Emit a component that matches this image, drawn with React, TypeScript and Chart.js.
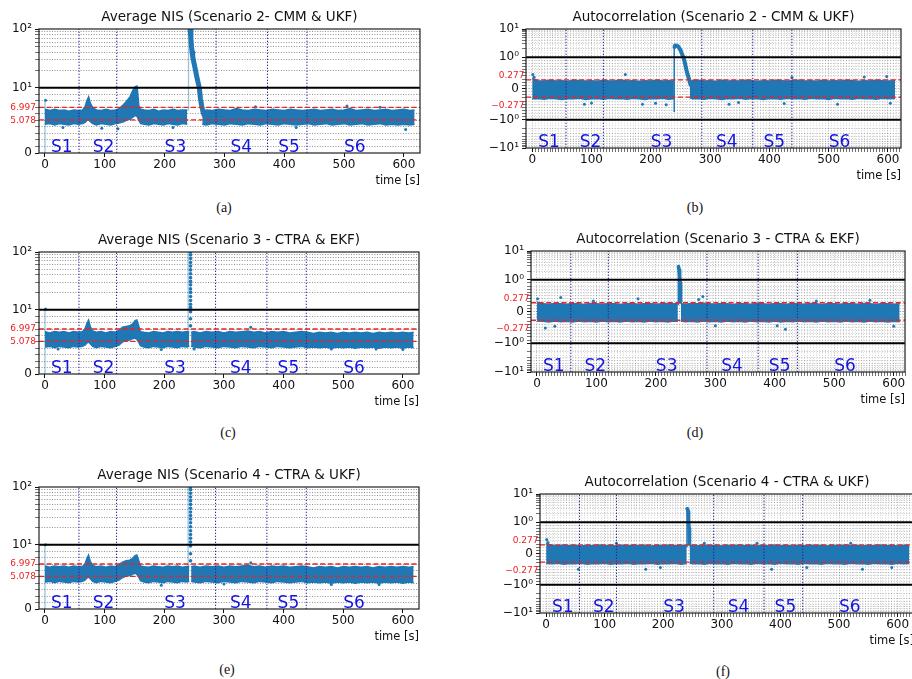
import React, { useEffect, useRef } from 'react';
import { Chart, LinearScale, registerables } from 'chart.js';

Chart.register(...registerables);

const FONT = "'DejaVu Sans', 'Noto Sans', sans-serif";
const SERIF = "'Liberation Serif', 'DejaVu Serif', serif";
const DATA_BLUE = '#1f77b4';
const LIGHT_BLUE = 'rgba(31,119,180,0.45)';
const RED = '#ee2222';
const NAVY = '#22229a';
const S_BLUE = '#1414e0';
const XH = 30;

// ---------------- axis / label data ----------------
const xTickValues = [0, 100, 200, 300, 400, 500, 600];
const xTickLabels = ['0', '100', '200', '300', '400', '500', '600'];
const nisTickValues = [0, 10, 100];
const nisTickLabels = ['0', '10¹', '10²'];
const acTickValues = [-10, -1, 0, 1, 10];
const acTickLabels = ['−10¹', '−10⁰', '0', '10⁰', '10¹'];
const nisLimits = [6.997, 5.078];
const nisLimitLabels = ['6.997', '5.078'];
const acLimits = [0.277, -0.277];
const acLimitLabels = ['0.277', '−0.277'];
const nisRef = [10];
const acRef = [1, -1];
const sceneBounds = [57, 120, 286, 372, 438];
const sceneNames = ['S1', 'S2', 'S3', 'S4', 'S5', 'S6'];
const sceneLabelAt = [10, 80, 200, 310, 390, 500];

// ---------------- (a) Average NIS, Scenario 2 CMM & UKF : [t, upper, lower] ----------------
const nisA_band1 = [
  [0, 6.7, 4.4], [8, 6.5, 4.5], [16, 6.7, 4.3], [24, 6.5, 4.5], [32, 6.6, 4.4], [40, 6.4, 4.3], [48, 6.6, 4.5], [56, 6.5, 4.4],
  [63, 6.6, 4.5], [67, 7.1, 4.7], [70, 8.0, 5.0], [73, 8.6, 5.1], [76, 7.6, 4.8], [80, 6.9, 4.5], [86, 6.6, 4.3], [94, 6.5, 4.5],
  [102, 6.7, 4.4], [110, 6.5, 4.3], [118, 6.6, 4.5], [124, 6.8, 4.6], [131, 7.4, 4.8], [136, 7.9, 5.0], [142, 8.6, 5.2], [147, 9.6, 5.5],
  [151, 10.4, 5.8], [154, 10.6, 5.6], [157, 7.2, 5.0], [160, 6.7, 4.5], [166, 6.6, 4.4], [174, 6.5, 4.3], [182, 6.7, 4.5], [190, 6.4, 4.4],
  [198, 6.6, 4.3], [206, 6.5, 4.5], [214, 6.7, 4.4], [222, 6.5, 4.3], [230, 6.6, 4.5], [238, 6.6, 4.4],
];
const nisA_band2 = [
  [263, 6.4, 4.4], [270, 6.6, 4.3], [280, 6.5, 4.5], [290, 6.7, 4.4], [300, 6.6, 4.3], [310, 6.5, 4.5], [320, 6.8, 4.4], [330, 6.6, 4.3],
  [340, 6.5, 4.5], [350, 6.7, 4.4], [360, 6.6, 4.3], [370, 6.5, 4.5], [380, 6.7, 4.4], [390, 6.6, 4.3], [400, 6.5, 4.5], [410, 6.7, 4.4],
  [420, 6.6, 4.3], [430, 6.5, 4.4], [440, 6.6, 4.5], [450, 6.7, 4.3], [460, 6.5, 4.4], [470, 6.6, 4.5], [480, 6.7, 4.3], [490, 6.5, 4.4],
  [500, 6.6, 4.5], [510, 6.8, 4.3], [520, 6.5, 4.4], [530, 6.6, 4.5], [540, 6.7, 4.3], [550, 6.5, 4.4], [560, 6.6, 4.5], [570, 6.7, 4.3],
  [580, 6.5, 4.4], [590, 6.6, 4.3], [600, 6.7, 4.4], [610, 6.5, 4.3], [618, 6.6, 4.4],
];
const nisA_decay = [
  [242.5, 100], [244, 70], [245, 50], [246, 40], [247, 34], [248, 30], [250, 24], [252, 19], [254, 15], [256, 12.3],
  [258, 10], [260, 8.3], [262, 7.2], [264, 6.4], [266, 5.8],
];
const nisA_light = [[0, 0, 8.1], [240, 6.5, 100]];
const nisA_dots = [[1, 8.1], [30, 3.9], [95, 3.8], [122, 3.7], [214, 3.9], [352, 7.1], [420, 3.9], [505, 7.2], [560, 7.0], [603, 3.6]];

// ---------------- (b) Autocorrelation, Scenario 2 CMM & UKF ----------------
const acB_band1 = [
  [0, 0.32, -0.33], [10, 0.25, -0.32], [20, 0.24, -0.34], [30, 0.26, -0.31], [40, 0.24, -0.33], [50, 0.25, -0.35], [60, 0.23, -0.32],
  [70, 0.26, -0.33], [80, 0.25, -0.31], [90, 0.24, -0.35], [100, 0.25, -0.33], [110, 0.23, -0.32], [120, 0.26, -0.34], [130, 0.24, -0.31],
  [140, 0.25, -0.33], [150, 0.27, -0.32], [160, 0.24, -0.34], [170, 0.25, -0.31], [180, 0.23, -0.33], [190, 0.25, -0.35], [200, 0.24, -0.32],
  [210, 0.26, -0.33], [220, 0.24, -0.31], [230, 0.25, -0.34], [239, 0.24, -0.33],
];
const acB_band2 = [
  [266, 0.22, -0.3], [270, 0.25, -0.33], [280, 0.26, -0.32], [290, 0.24, -0.34], [300, 0.25, -0.31], [310, 0.23, -0.33], [320, 0.26, -0.35],
  [330, 0.24, -0.32], [340, 0.25, -0.33], [350, 0.24, -0.31], [360, 0.26, -0.34], [370, 0.25, -0.32], [380, 0.23, -0.33], [390, 0.25, -0.35],
  [400, 0.24, -0.32], [410, 0.26, -0.33], [420, 0.25, -0.34], [430, 0.24, -0.31], [440, 0.25, -0.33], [450, 0.26, -0.32], [460, 0.24, -0.34],
  [470, 0.25, -0.31], [480, 0.23, -0.33], [490, 0.26, -0.32], [500, 0.24, -0.35], [510, 0.25, -0.31], [520, 0.24, -0.33], [530, 0.26, -0.32],
  [540, 0.25, -0.34], [550, 0.23, -0.31], [560, 0.25, -0.33], [570, 0.24, -0.32], [580, 0.26, -0.34], [590, 0.25, -0.31], [600, 0.24, -0.33],
  [612, 0.25, -0.32],
];
const acB_hump = [
  [240, 2.3], [241, 2.6], [244, 2.55], [247, 2.3], [250, 1.8], [252, 1.4], [255, 1.0], [258, 0.78], [260, 0.6], [262, 0.45], [265, 0.27], [267, 0.12],
];
const acB_dark = [[239.5, -0.75, 2.5]];
const acB_dots = [
  [1, 0.45], [3, 0.36], [88, -0.5], [100, -0.46], [157, 0.45], [186, -0.5], [208, -0.47], [226, -0.52], [332, -0.5], [348, -0.45],
  [425, -0.48], [438, 0.35], [515, -0.5], [560, 0.37], [598, 0.38], [604, -0.47],
];

// ---------------- (c) Average NIS, Scenario 3 CTRA & EKF ----------------
const nisC_band1 = [
  [0, 6.6, 4.2], [8, 6.4, 4.3], [16, 6.6, 4.1], [24, 6.5, 4.3], [32, 6.6, 4.2], [40, 6.4, 4.1], [48, 6.6, 4.3], [56, 6.5, 4.2],
  [63, 6.6, 4.3], [67, 7.0, 4.5], [70, 7.8, 4.8], [73, 8.4, 5.0], [76, 7.4, 4.7], [80, 6.7, 4.3], [86, 6.5, 4.1], [94, 6.6, 4.3],
  [102, 6.4, 4.2], [110, 6.6, 4.1], [118, 6.5, 4.3], [124, 6.8, 4.5], [130, 7.3, 5.0], [136, 7.4, 5.2], [142, 7.5, 5.3], [147, 7.8, 5.5],
  [151, 8.3, 5.6], [154, 8.4, 5.4], [157, 7.5, 5.0], [160, 6.6, 4.4], [166, 6.5, 4.2], [174, 6.4, 4.1], [182, 6.6, 4.3], [190, 6.5, 4.2],
  [198, 6.4, 4.1], [206, 6.6, 4.3], [214, 6.5, 4.2], [222, 6.6, 4.1], [230, 6.5, 4.3], [238, 6.6, 4.2], [242, 6.5, 4.3],
];
const nisC_band2 = [
  [245, 6.5, 4.3], [250, 6.6, 4.2], [260, 6.4, 4.1], [270, 6.6, 4.3], [280, 6.5, 4.2], [290, 6.6, 4.1], [300, 6.4, 4.3], [310, 6.6, 4.2],
  [320, 6.5, 4.1], [330, 6.6, 4.3], [340, 6.7, 4.2], [350, 6.5, 4.1], [360, 6.6, 4.3], [370, 6.4, 4.2], [380, 6.6, 4.1], [390, 6.5, 4.3],
  [400, 6.6, 4.2], [410, 6.4, 4.1], [420, 6.5, 4.2], [430, 6.6, 4.3], [440, 6.5, 4.1], [450, 6.3, 4.2], [460, 6.5, 4.1], [470, 6.4, 4.2],
  [480, 6.5, 4.0], [490, 6.3, 4.2], [500, 6.5, 4.1], [510, 6.4, 4.2], [520, 6.5, 4.0], [530, 6.4, 4.2], [540, 6.5, 4.1], [550, 6.3, 4.2],
  [560, 6.5, 4.0], [570, 6.4, 4.2], [580, 6.5, 4.1], [590, 6.4, 4.2], [600, 6.5, 4.0], [610, 6.4, 4.2], [618, 6.5, 4.1],
];
const nisC_spike = [
  [244, 7.5], [244, 8.6], [244, 9.7], [244, 11], [244, 12.5], [244, 14.5], [244, 17], [244, 20], [244, 23], [244, 27], [244, 31],
  [244, 36], [244, 42], [244, 49], [244, 57], [244, 66], [244, 77], [244, 89], [244, 100],
];
const nisC_light = [[0, 0, 10.3], [240, 6.5, 100]];
const nisC_dots = [[1, 10.3], [22, 3.9], [195, 3.8], [250, 3.9], [345, 7.3], [480, 3.9], [555, 3.9], [600, 3.8]];

// ---------------- (d) Autocorrelation, Scenario 3 CTRA & EKF ----------------
const acD_band1 = [
  [0, 0.3, -0.3], [10, 0.24, -0.31], [20, 0.23, -0.33], [30, 0.25, -0.3], [40, 0.24, -0.32], [50, 0.23, -0.31], [60, 0.25, -0.33],
  [70, 0.24, -0.3], [80, 0.22, -0.32], [90, 0.25, -0.31], [100, 0.24, -0.33], [110, 0.23, -0.3], [120, 0.25, -0.32], [130, 0.24, -0.31],
  [140, 0.22, -0.33], [150, 0.24, -0.3], [160, 0.25, -0.32], [170, 0.23, -0.31], [180, 0.24, -0.33], [190, 0.25, -0.3], [200, 0.23, -0.32],
  [210, 0.24, -0.31], [220, 0.25, -0.33], [230, 0.24, -0.3], [237, 0.25, -0.31],
];
const acD_band2 = [
  [242, 0.24, -0.3], [250, 0.23, -0.32], [260, 0.25, -0.31], [270, 0.24, -0.33], [280, 0.26, -0.3], [290, 0.24, -0.32], [300, 0.23, -0.31],
  [310, 0.25, -0.33], [320, 0.24, -0.3], [330, 0.22, -0.32], [340, 0.25, -0.31], [350, 0.24, -0.33], [360, 0.23, -0.3], [370, 0.25, -0.32],
  [380, 0.24, -0.31], [390, 0.22, -0.33], [400, 0.25, -0.3], [410, 0.24, -0.33], [420, 0.23, -0.31], [430, 0.25, -0.32], [440, 0.24, -0.3],
  [450, 0.23, -0.32], [460, 0.25, -0.31], [470, 0.24, -0.33], [480, 0.22, -0.3], [490, 0.25, -0.32], [500, 0.24, -0.31], [510, 0.23, -0.33],
  [520, 0.25, -0.3], [530, 0.24, -0.32], [540, 0.23, -0.31], [550, 0.25, -0.33], [560, 0.24, -0.3], [570, 0.22, -0.32], [580, 0.25, -0.31],
  [590, 0.24, -0.33], [600, 0.23, -0.31], [610, 0.24, -0.32],
];
const acD_hump = [[238, 2.9], [239, 2.2], [240, 1.4], [240.7, 0.9], [241.3, 0.5], [242, 0.3]];
const acD_dark = [[237.8, 0.2, 2.9]];
const acD_dots = [
  [1, 0.4], [14, -0.52], [30, -0.46], [40, 0.44], [95, 0.33], [170, 0.4], [272, 0.38], [279, 0.47], [300, -0.45], [404, -0.45],
  [418, -0.56], [470, 0.33], [560, 0.35], [600, -0.46],
];

// ---------------- (e) Average NIS, Scenario 4 CTRA & UKF ----------------
const nisE_band1 = [
  [0, 6.7, 4.2], [8, 6.5, 4.3], [16, 6.7, 4.1], [24, 6.6, 4.3], [32, 6.7, 4.2], [40, 6.5, 4.1], [48, 6.7, 4.3], [56, 6.6, 4.2],
  [63, 6.6, 4.3], [67, 7.0, 4.5], [70, 7.8, 4.8], [73, 8.4, 5.0], [76, 7.4, 4.7], [80, 6.8, 4.3], [86, 6.6, 4.1], [94, 6.7, 4.3],
  [102, 6.5, 4.2], [110, 6.7, 4.1], [118, 6.6, 4.3], [124, 6.9, 4.5], [130, 7.3, 4.9], [136, 7.5, 5.1], [142, 7.6, 5.2], [147, 7.9, 5.4],
  [151, 8.3, 5.6], [154, 8.4, 5.4], [157, 7.6, 5.0], [160, 6.7, 4.4], [166, 6.6, 4.2], [174, 6.5, 4.1], [182, 6.7, 4.3], [190, 6.6, 4.2],
  [198, 6.5, 4.1], [206, 6.7, 4.3], [214, 6.6, 4.2], [222, 6.7, 4.1], [230, 6.5, 4.3], [238, 6.6, 4.2], [242, 6.6, 4.3],
];
const nisE_band2 = [
  [245, 6.6, 4.3], [250, 6.7, 4.2], [260, 6.5, 4.1], [270, 6.7, 4.3], [280, 6.6, 4.2], [290, 6.7, 4.1], [300, 6.5, 4.3], [310, 6.7, 4.2],
  [320, 6.6, 4.1], [330, 6.7, 4.3], [340, 6.8, 4.2], [350, 6.6, 4.1], [360, 6.7, 4.3], [370, 6.5, 4.2], [380, 6.7, 4.1], [390, 6.6, 4.3],
  [400, 6.7, 4.2], [410, 6.5, 4.1], [420, 6.6, 4.2], [430, 6.7, 4.3], [440, 6.6, 4.1], [450, 6.4, 4.2], [460, 6.6, 4.1], [470, 6.5, 4.2],
  [480, 6.6, 4.0], [490, 6.4, 4.2], [500, 6.6, 4.1], [510, 6.5, 4.2], [520, 6.6, 4.0], [530, 6.5, 4.2], [540, 6.6, 4.1], [550, 6.4, 4.2],
  [560, 6.6, 4.0], [570, 6.5, 4.2], [580, 6.6, 4.1], [590, 6.5, 4.2], [600, 6.6, 4.0], [610, 6.5, 4.2], [618, 6.6, 4.1],
];
const nisE_spike = [
  [244, 7.5], [244, 8.6], [244, 9.8], [244, 11.2], [244, 13], [244, 15], [244, 17.5], [244, 20.5], [244, 24], [244, 28], [244, 32],
  [244, 37], [244, 43], [244, 50], [244, 58], [244, 67], [244, 78], [244, 90], [244, 100],
];
const nisE_light = [[0, 0, 10], [240, 6.5, 100]];
const nisE_dots = [[1, 10], [195, 3.7], [300, 3.9], [345, 7.2], [480, 3.8], [560, 3.8]];

// ---------------- (f) Autocorrelation, Scenario 4 CTRA & UKF ----------------
const acF_band1 = [
  [0, 0.32, -0.32], [10, 0.26, -0.33], [20, 0.25, -0.31], [30, 0.27, -0.34], [40, 0.25, -0.32], [50, 0.26, -0.33], [60, 0.24, -0.31],
  [70, 0.26, -0.34], [80, 0.25, -0.32], [90, 0.27, -0.33], [100, 0.25, -0.31], [110, 0.26, -0.34], [120, 0.24, -0.32], [130, 0.26, -0.33],
  [140, 0.25, -0.31], [150, 0.27, -0.34], [160, 0.25, -0.32], [170, 0.26, -0.33], [180, 0.24, -0.31], [190, 0.26, -0.34], [200, 0.25, -0.32],
  [210, 0.27, -0.33], [220, 0.25, -0.31], [230, 0.26, -0.34], [240, 0.25, -0.32],
];
const acF_band2 = [
  [245, 0.25, -0.31], [250, 0.26, -0.33], [260, 0.25, -0.32], [270, 0.27, -0.34], [280, 0.25, -0.31], [290, 0.26, -0.33], [300, 0.24, -0.32],
  [310, 0.26, -0.34], [320, 0.25, -0.31], [330, 0.27, -0.33], [340, 0.25, -0.32], [350, 0.26, -0.34], [360, 0.24, -0.31], [370, 0.26, -0.33],
  [380, 0.25, -0.32], [390, 0.27, -0.34], [400, 0.25, -0.31], [410, 0.26, -0.33], [420, 0.24, -0.32], [430, 0.26, -0.34], [440, 0.25, -0.31],
  [450, 0.27, -0.33], [460, 0.25, -0.32], [470, 0.26, -0.34], [480, 0.24, -0.31], [490, 0.26, -0.33], [500, 0.25, -0.32], [510, 0.27, -0.34],
  [520, 0.25, -0.31], [530, 0.26, -0.33], [540, 0.24, -0.32], [550, 0.26, -0.34], [560, 0.25, -0.31], [570, 0.27, -0.33], [580, 0.25, -0.32],
  [590, 0.26, -0.34], [600, 0.24, -0.31], [610, 0.26, -0.33], [620, 0.25, -0.32],
];
const acF_hump = [[240.5, 3.0], [241.5, 2.9], [242.5, 2.4], [243, 1.8], [243.5, 1.2], [244, 0.8], [244.5, 0.5], [245, 0.3]];
const acF_dark = [[240.5, 0.2, 3.0]];
const acF_dots = [
  [1, 0.45], [3, 0.35], [55, -0.5], [120, 0.33], [170, -0.5], [195, -0.45], [270, 0.33], [360, 0.33], [385, -0.5], [445, -0.45],
  [520, 0.33], [540, -0.5], [590, -0.45],
];

// ---------------- panels (layout) ----------------
const panels = [
  {
    key: 'a', kind: 'nis', title: 'Average NIS (Scenario 2- CMM & UKF)', caption: '(a)', capX: 224, capY: 208,
    canvas: { left: 0, top: 0, w: 456, h: 195 }, area: { l: 39, t: 29, r: 420, b: 153 }, xMin: -10, xMax: 627,
    bands: [nisA_band1, nisA_band2], hump: nisA_decay, humpWidth: 5, spike: [], light: nisA_light, dark: [], dots: nisA_dots,
  },
  {
    key: 'b', kind: 'ac', title: 'Autocorrelation (Scenario 2 - CMM & UKF)', caption: '(b)', capX: 695, capY: 208,
    canvas: { left: 456, top: 0, w: 456, h: 195 }, area: { l: 526, t: 29, r: 901, b: 148 }, xMin: -10.5, xMax: 622,
    bands: [acB_band1, acB_band2], hump: acB_hump, humpWidth: 4, spike: [], light: [], dark: acB_dark, dots: acB_dots,
  },
  {
    key: 'c', kind: 'nis', title: 'Average NIS (Scenario 3 - CTRA & EKF)', caption: '(c)', capX: 228, capY: 433,
    canvas: { left: 0, top: 222, w: 456, h: 200 }, area: { l: 39, t: 252, r: 419, b: 374 }, xMin: -10, xMax: 627,
    bands: [nisC_band1, nisC_band2], hump: [], humpWidth: 0, spike: nisC_spike, light: nisC_light, dark: [], dots: nisC_dots,
  },
  {
    key: 'd', kind: 'ac', title: 'Autocorrelation (Scenario 3 - CTRA & EKF)', caption: '(d)', capX: 695, capY: 433,
    canvas: { left: 456, top: 222, w: 456, h: 200 }, area: { l: 531, t: 251, r: 905, b: 372 }, xMin: -10, xMax: 619,
    bands: [acD_band1, acD_band2], hump: acD_hump, humpWidth: 3.5, spike: [], light: [], dark: acD_dark, dots: acD_dots,
  },
  {
    key: 'e', kind: 'nis', title: 'Average NIS (Scenario 4 - CTRA & UKF)', caption: '(e)', capX: 227, capY: 670,
    canvas: { left: 0, top: 450, w: 456, h: 200 }, area: { l: 39, t: 487, r: 419, b: 609 }, xMin: -10, xMax: 627,
    bands: [nisE_band1, nisE_band2], hump: [], humpWidth: 0, spike: nisE_spike, light: nisE_light, dark: [], dots: nisE_dots,
  },
  {
    key: 'f', kind: 'ac', title: 'Autocorrelation (Scenario 4 - CTRA & UKF)', caption: '(f)', capX: 723, capY: 672,
    canvas: { left: 456, top: 450, w: 470, h: 200 }, area: { l: 540, t: 494, r: 914, b: 613 }, xMin: -10.5, xMax: 628,
    bands: [acF_band1, acF_band2], hump: acF_hump, humpWidth: 3.5, spike: [], light: [], dark: acF_dark, dots: acF_dots,
  },
];

// ---------------- symmetric-log scale (matplotlib "symlog", base 10, linscale 1) ----------------
const LIN_SPAN = 1 / (1 - 1 / 10);
class SymlogScale extends LinearScale {
  static id = 'symlog';
  static defaults = {};
  fwd(v) {
    const c = this.options.linthresh || 1;
    const a = Math.abs(v);
    const s = v < 0 ? -1 : 1;
    return a <= c ? s * (a / c) * LIN_SPAN : s * (LIN_SPAN + Math.log10(a / c));
  }
  inv(u) {
    const c = this.options.linthresh || 1;
    const a = Math.abs(u);
    const s = u < 0 ? -1 : 1;
    return a <= LIN_SPAN ? s * (a / LIN_SPAN) * c : s * c * Math.pow(10, a - LIN_SPAN);
  }
  determineDataLimits() {
    this.min = this.options.min;
    this.max = this.options.max;
  }
  buildTicks() {
    return [{ value: this.min }, { value: this.max }];
  }
  configure() {
    super.configure();
    this._t0 = this.fwd(this.min);
    this._t1 = this.fwd(this.max);
  }
  getPixelForValue(value) {
    if (value === null || value === undefined || isNaN(value)) return NaN;
    return this.getPixelForDecimal((this.fwd(value) - this._t0) / (this._t1 - this._t0));
  }
  getValueForPixel(pixel) {
    return this.inv(this._t0 + this.getDecimalForPixel(pixel) * (this._t1 - this._t0));
  }
}
Chart.register(SymlogScale);

function labelFor(v, values, labels) {
  for (let i = 0; i < values.length; i++) if (Math.abs(values[i] - v) < 1e-9) return labels[i];
  return '';
}

function nisYTicks() {
  const out = [];
  for (let k = 0; k <= 10; k++) out.push({ value: k, isMajor: k === 0 || k === 10 });
  for (let k = 2; k <= 10; k++) out.push({ value: k * 10, isMajor: k === 10 });
  return out;
}
function acYTicks() {
  const pos = [];
  for (let k = 1; k <= 9; k++) pos.push({ value: k / 10, isMajor: false });
  pos.push({ value: 1, isMajor: true });
  for (let k = 2; k <= 9; k++) pos.push({ value: k, isMajor: false });
  pos.push({ value: 10, isMajor: true });
  const neg = pos.map((t) => ({ value: -t.value, isMajor: t.isMajor })).reverse();
  return [...neg, { value: 0, isMajor: true }, ...pos];
}
function xTicks(kind) {
  if (kind === 'nis') return xTickValues.map((v) => ({ value: v, isMajor: true }));
  const out = [];
  for (let v = 0; v <= 620; v += 5) out.push({ value: v, isMajor: v % 100 === 0 });
  return out;
}

function lineDs(pts, color, width, dash = [], extra = {}) {
  return {
    data: pts.map(([x, y]) => ({ x, y })),
    borderColor: color, backgroundColor: color, borderWidth: width, borderDash: dash,
    pointRadius: 0, pointHoverRadius: 0, fill: false, tension: 0, ...extra,
  };
}
function dotDs(pts, r) {
  return {
    data: pts.map(([x, y]) => ({ x, y })), showLine: false, pointRadius: r, pointHoverRadius: r,
    pointBackgroundColor: DATA_BLUE, pointBorderWidth: 0, borderColor: DATA_BLUE, backgroundColor: DATA_BLUE,
  };
}

function buildDatasets(p) {
  const nis = p.kind === 'nis';
  const yMin = nis ? 0 : -10;
  const yMax = nis ? 100 : 10;
  const ds = [];
  (nis ? nisRef : acRef).forEach((v) => ds.push(lineDs([[p.xMin, v], [p.xMax, v]], '#000', 2)));
  (nis ? nisLimits : acLimits).forEach((v) => ds.push(lineDs([[p.xMin, v], [p.xMax, v]], RED, 1.4, [5, 2.6])));
  sceneBounds.forEach((b) => ds.push(lineDs([[b, yMin], [b, yMax]], NAVY, 1, [1.3, 1.7])));
  p.light.forEach(([t, a, b]) => ds.push(lineDs([[t, a], [t, b]], LIGHT_BLUE, 1.3)));
  p.dark.forEach(([t, a, b]) => ds.push(lineDs([[t, a], [t, b]], DATA_BLUE, 1.5)));
  if (p.hump.length) ds.push(lineDs(p.hump, DATA_BLUE, p.humpWidth, [], { borderCapStyle: 'round', borderJoinStyle: 'round' }));
  if (p.spike.length) ds.push(dotDs(p.spike, 1.8));
  ds.push(dotDs(p.dots, 1.5));
  p.bands.forEach((band) => {
    ds.push(lineDs(band.map((r) => [r[0], r[1]]), DATA_BLUE, 1.5, [], { fill: '+1', backgroundColor: DATA_BLUE }));
    ds.push(lineDs(band.map((r) => [r[0], r[2]]), DATA_BLUE, 1.5));
  });
  return ds;
}

function buildConfig(p) {
  const nis = p.kind === 'nis';
  const yList = nis ? nisYTicks() : acYTicks();
  const xList = xTicks(p.kind);
  const overlay = {
    id: 'overlay' + p.key,
    afterDraw(chart) {
      const { ctx, chartArea: a, scales } = chart;
      const xs = scales.x;
      const ys = scales.y;
      ctx.save();
      // scenario labels
      ctx.font = `17px ${FONT}`;
      ctx.fillStyle = S_BLUE;
      ctx.textAlign = 'left';
      ctx.textBaseline = 'alphabetic';
      sceneNames.forEach((n, i) => ctx.fillText(n, xs.getPixelForValue(sceneLabelAt[i]), a.bottom - 1.5));
      // frame
      ctx.strokeStyle = '#222';
      ctx.lineWidth = 1.2;
      ctx.strokeRect(a.left, a.top, a.right - a.left, a.bottom - a.top);
      // red threshold labels
      ctx.font = `9px ${FONT}`;
      ctx.fillStyle = RED;
      ctx.textAlign = 'right';
      ctx.textBaseline = 'middle';
      const lims = nis ? nisLimits : acLimits;
      const labs = nis ? nisLimitLabels : acLimitLabels;
      const shift = nis ? [0, 0.5] : [-4, 8];
      lims.forEach((v, i) => ctx.fillText(labs[i], a.left - (nis ? 3 : 1.5), ys.getPixelForValue(v) + shift[i]));
      // title
      ctx.font = `13.5px ${FONT}`;
      ctx.fillStyle = '#111';
      ctx.textAlign = 'center';
      ctx.fillText(p.title, (a.left + a.right) / 2, a.top - 12);
      // x label
      ctx.font = `11.5px ${FONT}`;
      ctx.textAlign = 'right';
      ctx.fillText('time [s]', a.right, a.bottom + 28);
      ctx.restore();
    },
  };
  return {
    type: 'line',
    data: { datasets: buildDatasets(p) },
    plugins: [overlay],
    options: {
      animation: false,
      responsive: false,
      devicePixelRatio: 1,
      events: [],
      layout: {
        padding: {
          left: 0,
          top: p.area.t - p.canvas.top,
          right: p.canvas.left + p.canvas.w - p.area.r,
          bottom: p.canvas.top + p.canvas.h - p.area.b - XH,
        },
      },
      plugins: { legend: { display: false }, tooltip: { enabled: false }, title: { display: false } },
      scales: {
        x: {
          type: 'linear', position: 'bottom', min: p.xMin, max: p.xMax,
          afterBuildTicks: (s) => { s.ticks = xList.map((t) => ({ ...t })); },
          afterFit: (s) => { s.height = XH; },
          ticks: {
            autoSkip: false, maxRotation: 0, minRotation: 0, padding: 1, color: '#111',
            font: { family: FONT, size: 12 },
            callback: (v) => labelFor(v, xTickValues, xTickLabels),
          },
          grid: {
            drawOnChartArea: !nis, drawTicks: true, tickLength: 4, lineWidth: 0.7,
            color: (c) => (c.tick && c.tick.isMajor ? 'rgba(0,0,0,0.45)' : 'rgba(0,0,0,0.26)'),
            tickColor: '#111',
            tickWidth: (c) => (c.tick && c.tick.isMajor ? 1 : 0.6),
            tickBorderDash: [],
          },
          border: { display: false, dash: [1, 1.6] },
        },
        y: {
          type: 'symlog', position: 'left', min: nis ? 0 : -10, max: nis ? 100 : 10, linthresh: nis ? 10 : 1,
          afterBuildTicks: (s) => { s.ticks = yList.map((t) => ({ ...t })); },
          afterFit: (s) => { s.width = p.area.l - p.canvas.left; },
          ticks: {
            autoSkip: false, padding: 3, color: '#111', font: { family: FONT, size: 12 },
            callback: (v) => (nis ? labelFor(v, nisTickValues, nisTickLabels) : labelFor(v, acTickValues, acTickLabels)),
          },
          grid: {
            drawOnChartArea: true, drawTicks: true, tickLength: 4, lineWidth: 0.8,
            color: (c) => {
              const t = c.tick;
              if (!t) return 'transparent';
              const a = Math.abs(t.value);
              if (nis) {
                if (t.value === 0 || t.value === 10 || t.value === 100) return 'transparent';
                return 'rgba(0,0,0,0.55)';
              }
              if (a === 1 || a === 10) return 'transparent';
              return t.isMajor ? 'rgba(0,0,0,0.5)' : 'rgba(0,0,0,0.3)';
            },
            tickColor: '#111',
            tickWidth: (c) => (c.tick && c.tick.isMajor ? 1 : 0.6),
            tickBorderDash: [],
          },
          border: { display: false, dash: [1, 1.6] },
        },
      },
    },
  };
}

function PanelChart({ panel }) {
  const ref = useRef(null);
  useEffect(() => {
    const chart = new Chart(ref.current, buildConfig(panel));
    return () => chart.destroy();
  }, [panel]);
  const c = panel.canvas;
  return (
    <canvas
      ref={ref}
      width={c.w}
      height={c.h}
      style={{ position: 'absolute', left: c.left, top: c.top, width: c.w, height: c.h }}
    />
  );
}

export default function App() {
  return (
    <div
      style={{
        position: 'absolute', left: 0, top: 0, width: 912, height: 679,
        overflow: 'hidden', background: '#fff',
      }}
    >
      {panels.map((p) => (
        <PanelChart key={p.key} panel={p} />
      ))}
      {panels.map((p) => (
        <div
          key={'cap' + p.key}
          style={{
            position: 'absolute', left: p.capX, top: p.capY, transform: 'translate(-50%, -50%)',
            fontFamily: SERIF, fontSize: 14, color: '#111', whiteSpace: 'nowrap', lineHeight: '16px',
          }}
        >
          {p.caption}
        </div>
      ))}
    </div>
  );
}
